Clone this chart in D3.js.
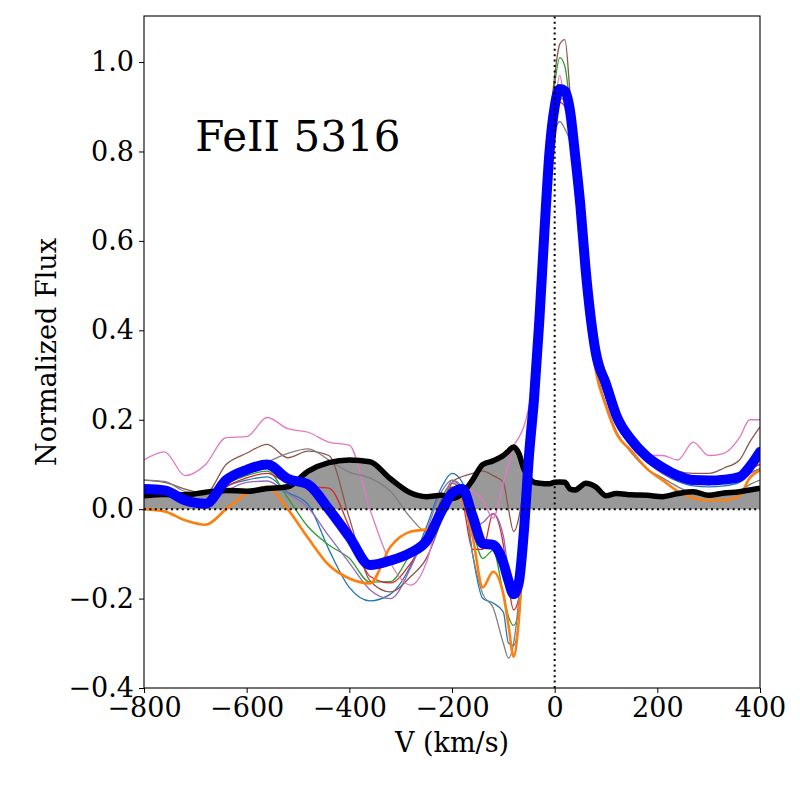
<!DOCTYPE html>
<html>
<head>
<meta charset="utf-8">
<script src="https://cdn.jsdelivr.net/npm/d3@7"></script>
<style>
  body { margin: 0; background: white; }
  text { font-family: "DejaVu Serif", serif; }
</style>
</head>
<body>
<div id="chart"></div>
<script>
// Velocity grid (km/s) shared by all profiles
var vel = [-800,-760,-720,-680,-640,-600,-560,-520,-480,-440,
           -400,-360,-320,-280,-250,-220,-200,-180,-160,-140,
           -120,-100,-90,-80,-70,-60,-50,-40,-30,-20,
           -10,0,10,20,30,40,50,60,80,100,
           120,150,180,210,240,270,300,330,360,380,400];

// Normalized flux of each epoch
var fluxBlack = [0.030,0.033,0.032,0.038,0.042,0.040,0.046,0.050,0.085,0.104,
                 0.110,0.106,0.068,0.036,0.028,0.031,0.024,0.035,0.065,0.100,
                 0.108,0.120,0.130,0.139,0.125,0.090,0.070,0.060,0.058,0.057,
                 0.057,0.060,0.061,0.060,0.045,0.043,0.050,0.058,0.050,0.030,
                 0.035,0.032,0.031,0.028,0.035,0.039,0.031,0.036,0.039,0.043,0.047];
var fluxMean  = [0.045,0.042,0.020,0.012,0.065,0.088,0.100,0.068,0.055,0.000,
                 -0.062,-0.125,-0.115,-0.097,-0.072,-0.004,0.035,0.045,-0.015,-0.077,
                 -0.080,-0.120,-0.160,-0.190,-0.165,-0.050,0.120,0.250,0.420,0.620,
                 0.800,0.900,0.940,0.935,0.890,0.790,0.680,0.540,0.350,0.280,
                 0.210,0.154,0.117,0.093,0.075,0.065,0.064,0.066,0.072,0.095,0.128];
var fluxOrange = [0.000,-0.005,-0.025,-0.035,0.000,0.035,0.050,0.000,-0.065,-0.125,
                  -0.155,-0.166,-0.084,-0.050,-0.045,0.005,0.045,0.020,-0.060,-0.175,
                  -0.140,-0.190,-0.260,-0.330,-0.250,-0.070,0.110,0.250,0.400,0.600,
                  0.780,0.890,0.930,0.930,0.880,0.780,0.660,0.500,0.310,0.230,
                  0.170,0.130,0.090,0.065,0.040,0.025,0.020,0.020,0.030,0.070,0.087];
var fluxTabBlue = [0.045,0.040,0.020,0.010,0.050,0.065,0.072,0.038,0.010,-0.090,
                   -0.175,-0.205,-0.190,-0.125,-0.040,0.050,0.080,0.060,-0.100,-0.200,
                   -0.210,-0.230,-0.300,-0.305,-0.250,-0.080,0.110,0.260,0.420,0.610,
                   0.800,0.900,0.930,0.930,0.870,0.770,0.650,0.510,0.330,0.250,
                   0.190,0.140,0.105,0.080,0.062,0.052,0.050,0.052,0.060,0.080,0.090];
var fluxGreen = [0.045,0.040,0.020,0.010,0.055,0.075,0.085,0.025,-0.040,-0.080,
                 -0.110,-0.163,-0.162,-0.100,-0.064,0.025,0.058,0.040,-0.045,-0.110,
                 -0.092,-0.190,-0.240,-0.260,-0.230,-0.100,0.100,0.280,0.450,0.650,
                 0.840,0.950,1.010,0.990,0.900,0.790,0.670,0.520,0.330,0.255,
                 0.195,0.145,0.108,0.082,0.066,0.058,0.058,0.060,0.065,0.080,0.090];
var fluxRed = [0.045,0.045,0.020,0.015,0.050,0.070,0.080,0.058,0.050,0.047,
               -0.040,-0.150,-0.165,-0.120,-0.065,0.020,0.050,0.020,-0.090,-0.090,
               -0.010,-0.080,-0.170,-0.225,-0.200,-0.090,0.100,0.250,0.420,0.600,
               0.780,0.870,0.910,0.900,0.860,0.770,0.660,0.510,0.330,0.255,
               0.195,0.148,0.112,0.087,0.072,0.064,0.062,0.064,0.070,0.090,0.100];
var fluxPurple = [0.040,0.035,0.012,0.005,0.040,0.060,0.063,0.035,0.003,-0.060,
                  -0.120,-0.180,-0.200,-0.130,-0.050,0.040,0.065,0.040,-0.040,-0.030,
                  -0.010,-0.060,-0.140,-0.200,-0.190,-0.080,0.100,0.250,0.420,0.600,
                  0.780,0.880,0.920,0.910,0.870,0.770,0.660,0.510,0.330,0.250,
                  0.190,0.142,0.106,0.080,0.065,0.058,0.055,0.058,0.065,0.080,0.090];
var fluxBrown = [0.065,0.060,0.045,0.035,0.100,0.125,0.145,0.115,0.130,0.120,
                 -0.020,-0.160,-0.185,-0.150,-0.110,-0.020,0.060,0.073,0.080,0.085,
                 0.075,0.060,0.000,-0.050,-0.020,0.060,0.200,0.350,0.520,0.700,
                 0.850,0.970,1.040,1.050,0.930,0.800,0.680,0.550,0.370,0.290,
                 0.225,0.160,0.120,0.100,0.085,0.080,0.080,0.092,0.110,0.150,0.184];
var fluxPink = [0.110,0.128,0.075,0.100,0.160,0.162,0.205,0.180,0.172,0.150,
                0.143,0.000,-0.120,-0.170,-0.120,0.010,0.060,0.050,0.040,0.020,
                -0.020,0.060,0.100,0.140,0.160,0.185,0.230,0.300,0.450,0.630,
                0.800,0.900,0.970,0.900,0.850,0.770,0.700,0.600,0.400,0.300,
                0.220,0.160,0.120,0.120,0.110,0.150,0.120,0.125,0.160,0.200,0.200];
var fluxGray = [0.065,0.062,0.040,0.035,0.060,0.085,0.105,0.125,0.135,0.110,
                0.083,0.070,0.040,-0.020,-0.050,0.000,0.065,0.050,-0.100,-0.190,
                -0.220,-0.300,-0.333,-0.300,-0.200,-0.020,0.150,0.300,0.450,0.620,
                0.760,0.840,0.867,0.850,0.820,0.740,0.640,0.500,0.320,0.235,
                0.175,0.125,0.090,0.070,0.050,0.035,0.028,0.030,0.040,0.055,0.065];

// Tick values
var xTicks = [-800,-600,-400,-200,0,200,400];
var yTicks = [-0.4,-0.2,0.0,0.2,0.4,0.6,0.8,1.0];

// Thin epochs in drawing order with their colours
var thinSeries = [
  {values: fluxTabBlue, color: "#1f77b4"},
  {values: fluxGreen,   color: "#2ca02c"},
  {values: fluxRed,     color: "#d62728"},
  {values: fluxPurple,  color: "#9467bd"},
  {values: fluxBrown,   color: "#8c564b"},
  {values: fluxPink,    color: "#e377c2"},
  {values: fluxGray,    color: "#7f7f7f"}
];

var width = 800, height = 800;
var margin = {left: 144, right: 40, top: 16, bottom: 112};

var svg = d3.select("#chart").append("svg")
  .attr("width", width)
  .attr("height", height);

var x = d3.scaleLinear().domain([-800, 400]).range([margin.left, width - margin.right]);
var y = d3.scaleLinear().domain([-0.4, 1.103]).range([height - margin.bottom, margin.top]);

svg.append("clipPath").attr("id", "clip")
  .append("rect")
  .attr("x", margin.left).attr("y", margin.top)
  .attr("width", width - margin.left - margin.right)
  .attr("height", height - margin.top - margin.bottom);

var plot = svg.append("g").attr("clip-path", "url(#clip)");

function lineFor(vals) {
  return d3.line()
    .x(function(d, i){ return x(vel[i]); })
    .y(function(d){ return y(d); })
    .curve(d3.curveMonotoneX)(vals);
}

// Gray fill under the reference profile
var area = d3.area()
  .x(function(d, i){ return x(vel[i]); })
  .y0(y(0))
  .y1(function(d){ return y(d); })
  .curve(d3.curveMonotoneX);

plot.append("path")
  .attr("d", area(fluxBlack))
  .attr("fill", "#999999");

// Thin epochs
thinSeries.forEach(function(s){
  plot.append("path")
    .attr("d", lineFor(s.values))
    .attr("fill", "none")
    .attr("stroke", s.color)
    .attr("stroke-width", 1.3);
});

// Orange epoch, a bit thicker
plot.append("path")
  .attr("d", lineFor(fluxOrange))
  .attr("fill", "none")
  .attr("stroke", "#ff7f0e")
  .attr("stroke-width", 2.6);

// Black reference
plot.append("path")
  .attr("d", lineFor(fluxBlack))
  .attr("fill", "none")
  .attr("stroke", "black")
  .attr("stroke-width", 5.5)
  .attr("stroke-linejoin", "round");

// Thick blue mean
plot.append("path")
  .attr("d", lineFor(fluxMean))
  .attr("fill", "none")
  .attr("stroke", "blue")
  .attr("stroke-width", 10)
  .attr("stroke-linejoin", "round")
  .attr("stroke-linecap", "round");

// Dotted zero lines
plot.append("line")
  .attr("x1", x(-800)).attr("x2", x(400))
  .attr("y1", y(0)).attr("y2", y(0))
  .attr("stroke", "black").attr("stroke-width", 2)
  .attr("stroke-dasharray", "2,3.4");
plot.append("line")
  .attr("x1", x(0)).attr("x2", x(0))
  .attr("y1", y(-0.4)).attr("y2", y(1.103))
  .attr("stroke", "black").attr("stroke-width", 2)
  .attr("stroke-dasharray", "2,3.4");

// Axes
var fmtY = function(d){ return d3.format(".1f")(d).replace("-", "\u2212"); };
var fmtX = function(d){ return String(d).replace("-", "\u2212"); };

var xAxis = svg.append("g")
  .attr("transform", "translate(0," + (height - margin.bottom) + ")")
  .call(d3.axisBottom(x).tickValues(xTicks).tickFormat(fmtX).tickSize(5).tickPadding(5));
var yAxis = svg.append("g")
  .attr("transform", "translate(" + margin.left + ",0)")
  .call(d3.axisLeft(y).tickValues(yTicks).tickFormat(fmtY).tickSize(5).tickPadding(5));

[xAxis, yAxis].forEach(function(ax){
  ax.select(".domain").remove();
  ax.selectAll("text")
    .attr("font-family", "DejaVu Serif")
    .attr("font-size", 27)
    .attr("fill", "black");
  ax.selectAll("line").attr("stroke", "black").attr("stroke-width", 1);
});

// Frame
svg.append("rect")
  .attr("x", margin.left).attr("y", margin.top)
  .attr("width", width - margin.left - margin.right)
  .attr("height", height - margin.top - margin.bottom)
  .attr("fill", "none")
  .attr("stroke", "black")
  .attr("stroke-width", 1.1);

// Labels
svg.append("text")
  .attr("x", (margin.left + width - margin.right) / 2)
  .attr("y", 752)
  .attr("text-anchor", "middle")
  .attr("font-size", 27)
  .text("V (km/s)");

svg.append("text")
  .attr("transform", "translate(56," + ((margin.top + height - margin.bottom) / 2) + ") rotate(-90)")
  .attr("text-anchor", "middle")
  .attr("font-size", 27)
  .text("Normalized Flux");

svg.append("text")
  .attr("x", x(-700))
  .attr("y", y(0.8))
  .attr("font-size", 42)
  .text("FeII 5316");
</script>
</body>
</html>
